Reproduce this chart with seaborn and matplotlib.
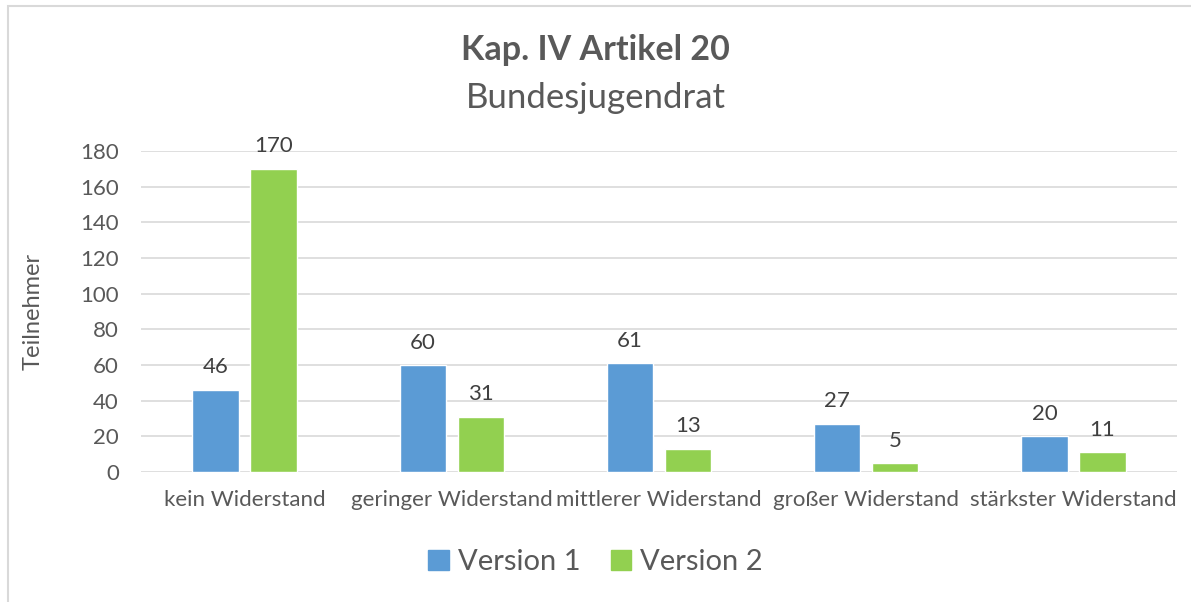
import numpy as np
import pandas as pd
import seaborn as sns
import matplotlib.pyplot as plt
from matplotlib.patches import Rectangle

categories = ["kein Widerstand", "geringer Widerstand", "mittlerer Widerstand",
              "großer Widerstand", "stärkster Widerstand"]
version_1 = [46, 60, 61, 27, 20]
version_2 = [170, 31, 13, 5, 11]
series = ["Version 1", "Version 2"]

df = pd.DataFrame({
    "Kategorie": categories * 2,
    "Teilnehmer": version_1 + version_2,
    "Version": [series[0]] * len(categories) + [series[1]] * len(categories),
})

sns.set_theme(style="white")
plt.rcParams["font.family"] = ["Lato", "DejaVu Sans"]
text_col = "#595959"

fig = plt.figure(figsize=(11.91, 6.02), dpi=100)
ax = fig.add_axes([0.1184, 0.2159, 0.8699, 0.5333])

sns.barplot(data=df, x="Kategorie", y="Teilnehmer", hue="Version",
            palette=["#5B9BD5", "#92D050"], width=0.56, gap=0.2,
            saturation=1, ax=ax, legend=False)

for cont in ax.containers:
    ax.bar_label(cont, padding=9, fontsize=16, color="#404040")

ax.set_ylim(0, 180)
ax.set_xlim(-0.5, len(categories) - 0.5)
ax.set_yticks(np.arange(0, 181, 20))
ax.yaxis.grid(True, color="#D9D9D9", linewidth=1.2)
ax.set_axisbelow(True)
for s in ax.spines.values():
    s.set_visible(False)
ax.tick_params(axis="both", length=0, labelsize=16, labelcolor=text_col)
ax.tick_params(axis="x", pad=13)
ax.tick_params(axis="y", pad=16)
ax.set_xlabel("")
ax.set_ylabel("Teilnehmer", fontsize=17, color=text_col, labelpad=26)

fig.text(0.5, 0.917, "Kap. IV Artikel 20", ha="center", va="center",
         fontsize=24.5, fontweight="bold", color=text_col)
fig.text(0.5, 0.837, "Bundesjugendrat", ha="center", va="center",
         fontsize=25, color=text_col)

handles = [Rectangle((0, 0), 1, 1, color=c) for c in ["#5B9BD5", "#92D050"]]
fig.legend(handles, series, loc="center", bbox_to_anchor=(0.5, 0.066), ncol=2,
           frameon=False, fontsize=21, labelcolor=text_col,
           handlelength=0.7, handleheight=0.7, handletextpad=0.3, columnspacing=1.05)

fig.patches.append(Rectangle((8 / 1191, -0.1), 1.2, 1 - 6 / 602 + 0.1,
                             transform=fig.transFigure, fill=False,
                             edgecolor="#D9D9D9", linewidth=1.5))

fig.savefig("out.png", dpi=100)
